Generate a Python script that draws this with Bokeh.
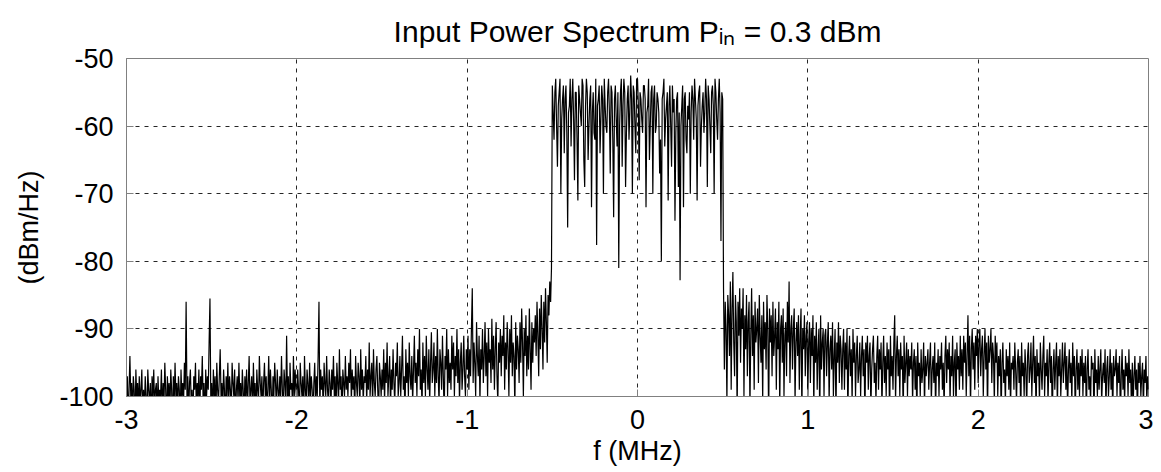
import numpy as np
from bokeh.plotting import figure
from bokeh.models import Range1d, FixedTicker
from bokeh.embed import file_html
from bokeh.resources import INLINE

# Power spectral density (dBm/Hz), 0.005 MHz bins.
# Values below -100 fall under the axis floor, as in the original plot.
left_noise = [
    -101, -97, -104, -99, -94, -100, -98, -103, -97, -99, -105, -96, -100, -98, -102, -97, -101, -99, -96, -103,
    -99, -102, -97, -100, -104, -96, -99, -101, -98, -105, -97, -100, -96, -102, -99, -98, -103, -97, -101, -99,
    -100, -96, -103, -98, -101, -95, -99, -104, -97, -100, -98, -102, -96, -99, -105, -97, -101, -95, -100, -98,
    -102, -97, -99, -104, -96, -100, -98, -101, -95, -99, -86, -100, -97, -103, -98, -96, -101, -99, -104, -97,
    -99, -95, -102, -98, -100, -96, -103, -97, -99, -94, -101, -98, -105, -96, -100, -97, -99, -92, -85.5, -101,
    -98, -103, -96, -100, -97, -104, -95, -99, -101, -97, -93, -100, -98, -102, -96, -99, -104, -97, -100, -95,
    -101, -97, -99, -103, -95, -98, -100, -96, -104, -99, -97, -101, -95, -100, -98, -102, -96, -99, -103, -97,
    -100, -96, -102, -98, -94, -101, -99, -97, -103, -95, -100, -98, -104, -96, -99, -101, -94, -98, -100, -97,
    -103, -98, -95, -100, -97, -102, -99, -94, -101, -96, -99, -104, -97, -100, -95, -98, -102, -96, -99, -101,
    -97, -100, -94, -99, -103, -96, -98, -101, -91, -100, -97, -104, -95, -99, -98, -102, -94, -100, -96, -99,
    -101, -96, -99, -103, -95, -98, -100, -97, -104, -94, -99, -101, -96, -98, -102, -95, -100, -97, -99, -103,
    -98, -95, -101, -97, -100, -94, -86, -102, -96, -99, -97, -103, -95, -98, -100, -94, -99, -101, -96, -98,
    -102, -96, -99, -94, -100, -97, -103, -95, -98, -101, -93, -99, -97, -104, -96, -98, -100, -94, -99, -97,
    -100, -95, -98, -93, -101, -96, -99, -97, -103, -94, -98, -100, -95, -97, -102, -93, -99, -96, -101, -97,
    -98, -94, -101, -96, -99, -92, -100, -97, -95, -102, -93, -98, -100, -96, -94, -99, -103, -95, -97, -100,
    -96, -99, -93, -101, -95, -98, -92, -100, -97, -94, -102, -96, -99, -93, -98, -101, -95, -97, -92, -100,
    -98, -94, -100, -96, -91, -99, -97, -103, -93, -98, -95, -100, -92, -97, -99, -94, -101, -96, -91, -98,
    -95, -100, -93, -97, -90, -99, -96, -102, -92, -98, -94, -100, -91, -96, -99, -93, -101, -95, -90.5, -98,
    -96, -92, -100, -94, -98, -90, -97, -101, -93, -95, -99, -91, -97, -103, -94, -96, -90, -100, -93, -98,
    -95, -99, -91, -96, -92, -100, -94, -97, -90, -98, -93, -101, -95, -92, -99, -96, -91, -97, -100, -93,
    -96, -91, -99, -93, -97, -90, -84, -98, -92, -95, -100, -89, -94, -97, -91, -101, -93, -96, -90, -98,
    -94, -89, -97, -92, -100, -90, -95, -93, -98, -88.5, -96, -91, -99, -93, -89, -97, -101, -92, -95, -90,
    -97, -91, -94, -88, -99, -92, -96, -89, -93, -100, -90, -95, -88, -97, -92, -94, -102, -89, -96, -91,
    -93, -98, -89, -95, -87, -92, -100, -90, -94, -88, -97, -91, -96, -87, -93, -99, -89, -95, -90, -92,
    -88, -94, -86, -91, -97, -87, -93, -85, -90, -96, -86, -92, -84, -89, -95, -85, -88, -83, -86, -81]
band = [-54, -58, -62, -55, -53, -60, -66, -57, -55, -53, -70, -59, -56, -54, -64, -56,
        -54, -61, -75, -58, -57, -53, -63, -56, -53, -59, -68, -55, -55, -62, -71, -54,
        -56, -58, -60, -53, -54, -65, -69, -57, -53, -55, -65, -60, -56, -54, -72, -58,
        -55, -61, -62, -53, -77.6, -57, -56, -54, -64, -59, -54, -56, -70, -53, -57, -60,
        -61, -55, -53, -58, -67, -54, -55, -62, -73.5, -56, -54, -59, -63, -55, -81, -60,
        -55, -53, -66, -57, -53, -55, -69, -61, -56, -54, -62, -58, -52.5, -56, -70, -54,
        -55, -60, -64, -53, -53, -57, -68, -55, -56, -59, -61, -54, -54, -56, -72, -58,
        -57, -53, -65, -60, -55, -54, -70, -56, -54, -61, -60, -55, -56, -58, -67, -62,
        -80, -56, -55, -53, -63, -59, -57, -55, -71, -57, -54, -60, -66, -54, -58, -56,
        -74, -61, -56, -55, -69, -58, -82.8, -60, -57, -54, -72, -56, -55, -62, -64, -57,
        -59, -55, -70, -58, -54, -56, -62, -53, -56, -59, -71, -57, -55, -54, -66, -60,
        -57, -55, -61, -58, -53, -56, -69, -54, -56, -60, -64, -55, -54, -57, -70, -53,
        -55, -59, -62, -56, -53, -58, -77, -55, -56]
right_noise = [
    -84, -96, -86, -90, -101, -85, -88, -94, -83, -99, -87, -81.6, -92, -97, -85, -89, -103, -86, -91, -84,
    -95, -87, -90, -84, -100, -88, -93, -85, -97, -89, -86, -102, -91, -84, -94, -88, -99, -86, -92, -90,
    -87, -98, -85, -91, -95, -88, -101, -86, -93, -89, -96, -85, -90, -104, -87, -92, -88, -97, -86, -94,
    -91, -87, -99, -89, -93, -86, -102, -90, -88, -95, -87, -100, -91, -89, -97, -86, -92, -83, -98, -90,
    -88, -96, -90, -87, -101, -92, -89, -94, -88, -99, -91, -87, -103, -90, -93, -88, -97, -91, -89, -100,
    -92, -89, -98, -90, -94, -88, -102, -91, -95, -89, -99, -93, -90, -104, -88, -96, -92, -90, -100, -91,
    -90, -97, -92, -89, -101, -93, -91, -96, -89, -100, -94, -90, -103, -92, -95, -89, -98, -91, -93, -99,
    -93, -90, -99, -92, -96, -90, -103, -94, -91, -97, -93, -101, -90, -95, -92, -100, -94, -91, -98, -96,
    -92, -100, -94, -91, -97, -93, -104, -92, -95, -91, -99, -94, -92, -102, -96, -93, -91, -98, -95, -101,
    -94, -91, -99, -93, -96, -92, -102, -95, -91, -98, -94, -100, -92, -96, -93, -104, -91, -97, -94, -99,
    -92, -88, -101, -94, -91, -97, -93, -100, -92, -96, -94, -103, -91, -98, -95, -92, -100, -93, -97, -94,
    -96, -92, -101, -95, -93, -99, -94, -104, -92, -97, -95, -100, -93, -98, -96, -92, -102, -94, -97, -95,
    -93, -99, -95, -92, -101, -96, -94, -98, -92, -103, -95, -97, -93, -100, -94, -96, -92, -99, -95, -102,
    -94, -91, -98, -93, -96, -92, -101, -94, -97, -91, -100, -95, -93, -103, -92, -96, -94, -99, -91, -97,
    -93, -99, -91, -95, -92, -100, -94, -88, -97, -91, -102, -93, -90, -96, -92, -99, -91, -94, -90, -98,
    -92, -90, -97, -93, -91, -100, -94, -90, -96, -92, -103, -91, -95, -93, -90, -98, -92, -94, -101, -91,
    -95, -92, -100, -94, -97, -93, -103, -95, -92, -98, -96, -101, -93, -97, -94, -99, -92, -102, -95, -96,
    -94, -99, -92, -96, -101, -95, -93, -98, -94, -104, -92, -97, -95, -100, -93, -96, -102, -94, -92, -98,
    -96, -92, -100, -95, -91, -98, -94, -103, -93, -97, -95, -101, -92, -96, -99, -94, -91, -100, -95, -97,
    -93, -101, -95, -92, -98, -94, -104, -96, -93, -99, -95, -92, -102, -94, -97, -93, -100, -96, -92, -98,
    -95, -92, -99, -94, -102, -96, -93, -98, -95, -101, -92, -97, -94, -103, -96, -93, -99, -95, -100, -94,
    -97, -93, -100, -95, -98, -94, -103, -96, -93, -99, -97, -101, -94, -96, -95, -104, -93, -98, -96, -100,
    -94, -99, -96, -93, -101, -97, -95, -98, -93, -102, -96, -94, -100, -97, -93, -99, -95, -103, -94, -97,
    -96, -93, -100, -95, -98, -94, -104, -97, -93, -99, -96, -101, -94, -97, -95, -100, -93, -98, -96, -102,
    -95, -101, -97, -94, -99, -96, -103, -95, -98, -94, -100, -97, -95, -102, -96, -98, -94, -101, -97, -99]

x_ticks = [-3, -2, -1, 0, 1, 2, 3]
y_ticks = [-100, -90, -80, -70, -60, -50]
title_text = "Input Power Spectrum P\u1d62\u2099 = 0.3 dBm"

f_left = np.linspace(-3.0, -0.505, len(left_noise))
f_band = np.linspace(-0.5, 0.5, len(band))
f_right = np.linspace(0.505, 3.0, len(right_noise))
freq = np.concatenate([f_left, f_band, f_right])
psd = np.array(left_noise + band + right_noise, dtype=float)

FONT = "Liberation Sans"

p = figure(frame_width=1022, frame_height=338, output_backend="svg",
           toolbar_location=None, x_range=Range1d(-3, 3), y_range=Range1d(-100, -50),
           min_border_left=126, min_border_right=5, min_border_top=58, min_border_bottom=60,
           title=title_text)
p.title.text_font = FONT
p.title.text_font_size = "30px"
p.title.text_font_style = "normal"
p.title.text_color = "black"
p.title.align = "center"
p.title.standoff = 22

p.background_fill_color = "white"
p.border_fill_color = "white"
p.outline_line_color = "#808080"
p.outline_line_width = 1

p.line(freq, psd, line_color="black", line_width=1.2)

for ax, ticks in ((p.xaxis, x_ticks), (p.yaxis, y_ticks)):
    ax.ticker = FixedTicker(ticks=ticks)
    ax.major_label_overrides = {v: str(v) for v in ticks}
    ax.minor_tick_line_color = None
    ax.major_tick_in = 7
    ax.major_tick_out = 0
    ax.major_tick_line_color = "#808080"
    ax.axis_line_color = "#808080"
    ax.major_label_text_font = FONT
    ax.major_label_text_font_size = "27px"
    ax.major_label_text_color = "black"
    ax.axis_label_text_font = FONT
    ax.axis_label_text_font_size = "27px"
    ax.axis_label_text_font_style = "normal"
    ax.axis_label_text_color = "black"

p.xaxis.axis_label = "f (MHz)"
p.yaxis.axis_label = "(dBm/Hz)"
p.xaxis.major_label_standoff = 13
p.yaxis.major_label_standoff = 13
p.xaxis.axis_label_standoff = 4
p.yaxis.axis_label_standoff = 12

for g in (p.xgrid, p.ygrid):
    g.grid_line_color = "black"
    g.grid_line_dash = "4 5"
    g.grid_line_alpha = 0.85
    g.grid_line_width = 1
p.xgrid.ticker = FixedTicker(ticks=x_ticks)
p.ygrid.ticker = FixedTicker(ticks=y_ticks)

open("out.html", "w").write(file_html(p, INLINE))
